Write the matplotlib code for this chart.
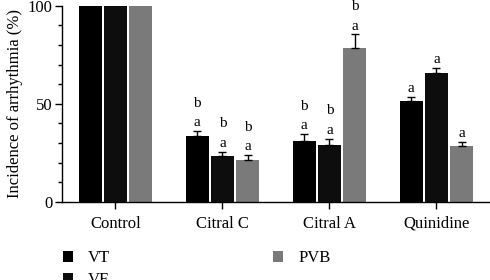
import matplotlib
matplotlib.use("Agg")
import matplotlib.pyplot as plt
import numpy as np
from matplotlib.ticker import MultipleLocator

groups = ["Control", "Citral C", "Citral A", "Quinidine"]
series = ["VT", "VF", "PVB"]
vt = [100, 33.7, 31.3, 51.5]
vf = [100, 23.5, 29.0, 65.6]
pvb = [100, 21.4, 78.4, 28.4]
vt_err = [0, 2.3, 3.2, 2.1]
vf_err = [0, 2.0, 3.3, 2.6]
pvb_err = [0, 2.4, 7.0, 2.1]
vt_lab = [None, ["a", "b"], ["a", "b"], ["a"]]
vf_lab = [None, ["a", "b"], ["a", "b"], ["a"]]
pvb_lab = [None, ["a", "b"], ["a", "b"], ["a"]]

colors = ["#000000", "#0d0d0d", "#7a7a7a"]

plt.rcParams['font.family'] = ['Liberation Serif', 'DejaVu Serif']

fig = plt.figure(figsize=(4.9, 2.8), dpi=100)
ax = fig.add_axes([0.1265, 0.279, 0.8735, 0.7])

x = np.arange(len(groups))
w = 0.215
off = 0.238
data = [(vt, vt_err, vt_lab), (vf, vf_err, vf_lab), (pvb, pvb_err, pvb_lab)]
for i, (vals, errs, labs) in enumerate(data):
    pos = x + (i - 1) * off
    ax.bar(pos, vals, width=w, color=colors[i], label=series[i], zorder=2)
    for p, v, e in zip(pos, vals, errs):
        if e > 0:
            ax.errorbar(p, v, yerr=[[0], [e]], color="black", capsize=3,
                        elinewidth=1, capthick=1, zorder=3)
    for p, v, e, lab in zip(pos, vals, errs, labs):
        if lab is None:
            continue
        base = v + e + 1.0
        for k, t in enumerate(lab):
            ax.text(p, base + k * 10.0, t, ha="center", va="bottom",
                    fontsize=11, clip_on=False)

ax.set_xlim(-0.5, 3.5)
ax.set_ylim(0, 100)
ax.set_xticks(x)
ax.set_xticklabels(groups, fontsize=12)
ax.set_yticks([0, 50, 100])
ax.tick_params(axis="y", labelsize=12, length=5, width=1, pad=2)
ax.tick_params(axis="x", length=5, width=1, pad=5)
ax.yaxis.set_minor_locator(MultipleLocator(10))
ax.tick_params(axis="y", which="minor", length=3, width=1)
for s in ["top", "right"]:
    ax.spines[s].set_visible(False)
ax.spines["left"].set_linewidth(1)
ax.spines["bottom"].set_linewidth(1)
ax.set_ylabel("Incidence of arrhythmia (%)", fontsize=12, labelpad=3)

handles, labels = ax.get_legend_handles_labels()
fig.legend(handles, labels, ncol=2, loc="upper left",
           bbox_to_anchor=(0.115, 0.13), frameon=False, fontsize=12,
           handlelength=0.6, handleheight=0.6, handletextpad=0.9,
           columnspacing=9.8, labelspacing=0.35, borderaxespad=0)

fig.savefig("out.png", dpi=100)
